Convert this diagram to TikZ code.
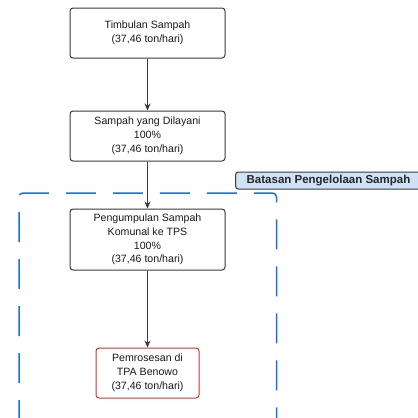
\documentclass[tikz,border=0pt]{standalone}
\usepackage{fontspec}
\setmainfont{Liberation Sans}
\usetikzlibrary{arrows.meta}
\definecolor{boxline}{HTML}{3A3A3A}
\definecolor{redline}{HTML}{D0312D}
\definecolor{blueline}{HTML}{1F6FD8}
\definecolor{labelfill}{HTML}{CFE2F8}
\begin{document}
\begin{tikzpicture}[x=1pt,y=-1pt,
  flowbox/.style={draw=boxline, line width=1pt, rounded corners=3pt, fill=white,
    minimum width=155pt, minimum height=50pt, align=center, inner sep=2pt,
    font=\fontsize{10.6}{13.8}\selectfont, text=black!90},
  endbox/.style={flowbox, draw=redline, minimum width=103pt, minimum height=50pt},
  flowarrow/.style={draw=boxline, line width=0.9pt, -{Stealth[length=7pt,width=6pt]}},
  boundary/.style={draw=blueline, line width=1.5pt, dash pattern=on 30pt off 17pt, rounded corners=4pt},
  tagbox/.style={draw=boxline, line width=1pt, rounded corners=3pt, fill=labelfill,
    minimum height=17pt, inner sep=2pt, font=\fontsize{11.5}{13}\selectfont\bfseries, text=black!85}
]
\useasboundingbox (0,0) rectangle (418,418);
\draw[boundary] (19,430) -- (19,193) -- (276.5,193) -- (276.5,430);
\node[flowbox] (a) at (147.5,33) {Timbulan Sampah\\(37,46 ton/hari)};
\node[flowbox] (b) at (147.5,136) {Sampah yang Dilayani\\100\%\\(37,46 ton/hari)};
\node[flowbox, minimum height=61pt] (c) at (147.5,239.5) {Pengumpulan Sampah\\Komunal ke TPS\\100\%\\(37,46 ton/hari)};
\node[endbox] (d) at (147.5,373) {Pemrosesan di\\TPA Benowo\\(37,46 ton/hari)};
\node[tagbox, anchor=west, minimum width=186pt] (t) at (235,180.5) {Batasan Pengelolaan Sampah};
\draw[flowarrow] (a) -- (b);
\draw[flowarrow] (b) -- (c);
\draw[flowarrow] (c) -- (d);
\end{tikzpicture}
\end{document}
